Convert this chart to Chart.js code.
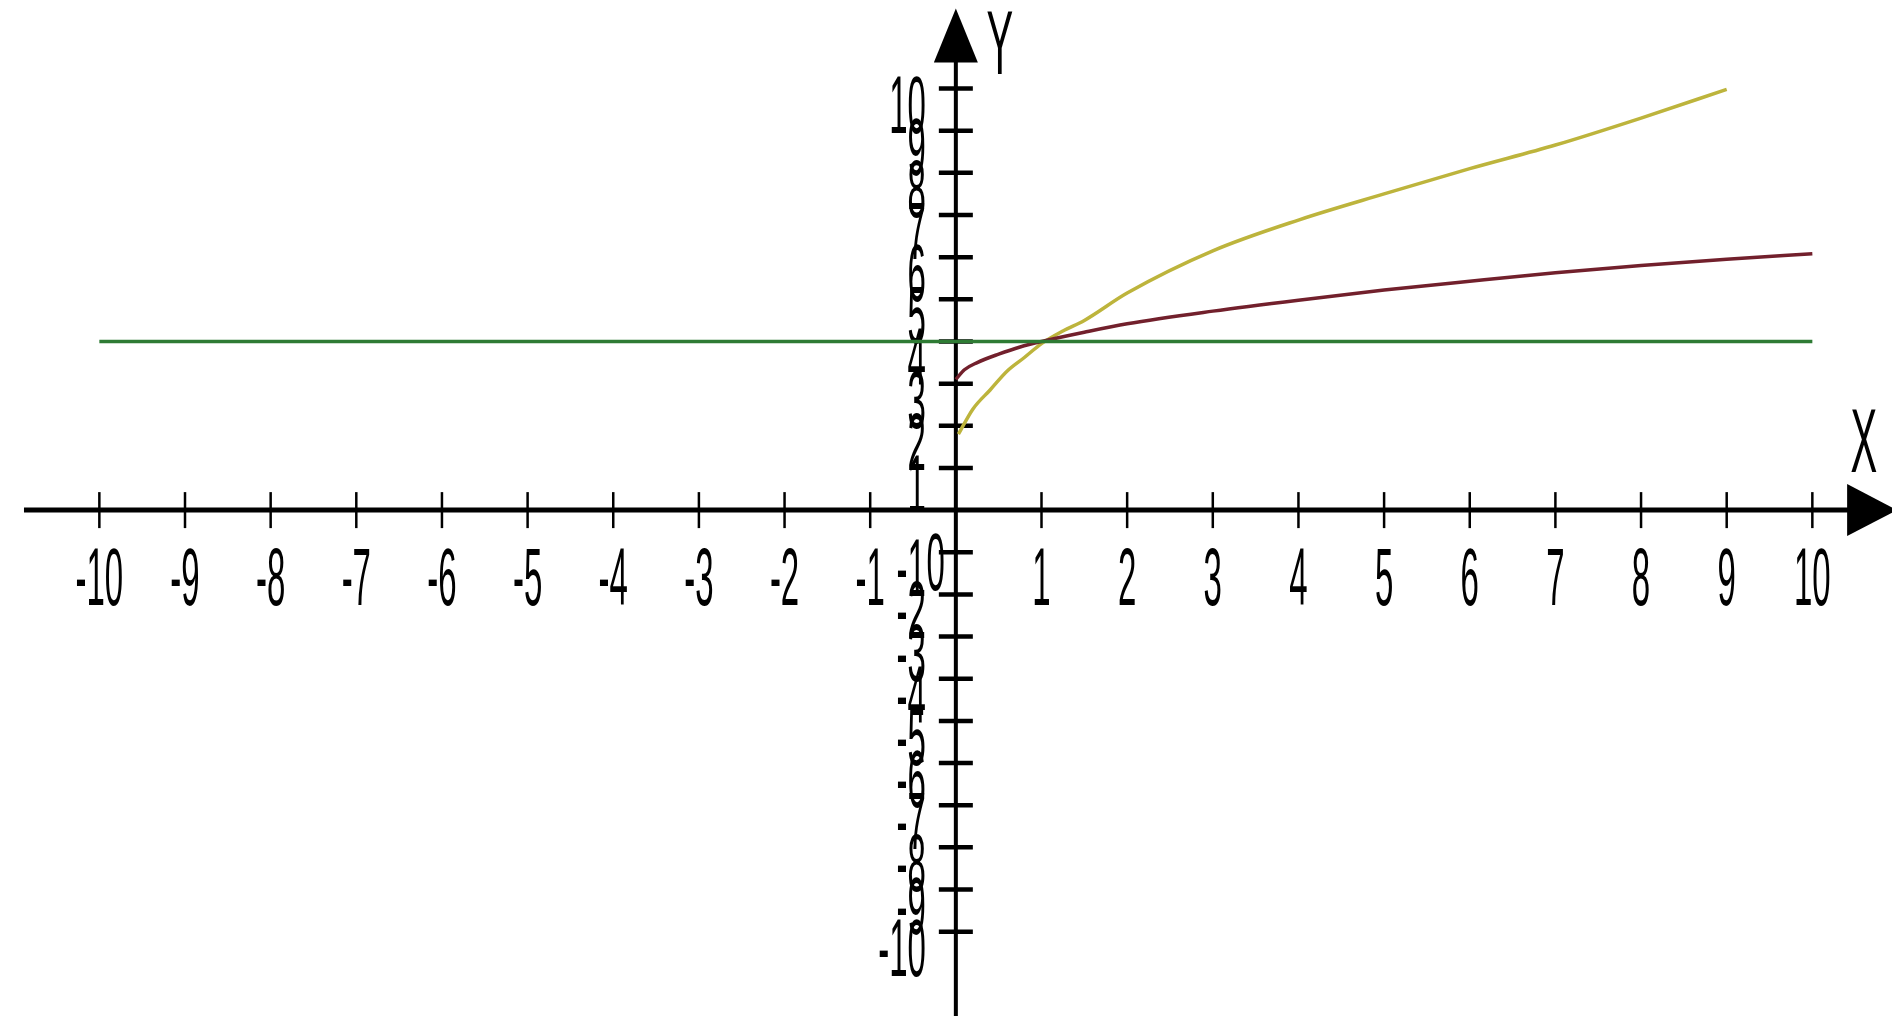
<!DOCTYPE html>
<html>
<head>
<meta charset="utf-8">
<title>Function graph</title>
<script src="https://cdn.jsdelivr.net/npm/chart.js@4/dist/chart.umd.min.js"></script>
<style>
  html, body { margin: 0; padding: 0; background: #ffffff; overflow: hidden; }
  canvas { display: block; }
</style>
</head>
<body>
<canvas id="graph" width="1892" height="1016"></canvas>
<script>
// Tick labels along both axes
const xTickLabels = ['-10', '-9', '-8', '-7', '-6', '-5', '-4', '-3', '-2', '-1', '1', '2', '3', '4', '5', '6', '7', '8', '9', '10'];
const yTickLabels = ['10', '9', '8', '7', '6', '5', '4', '3', '2', '1', '-1', '-2', '-3', '-4', '-5', '-6', '-7', '-8', '-9', '-10'];

// Horizontal line y = 4
const greenX = [-10, 10];
const greenY = [4, 4];

// Slowly rising curve starting near y = 3
const redX = [0, 0.1, 0.25, 0.5, 0.75, 1, 1.5, 2, 3, 4, 5, 6, 7, 8, 9, 10];
const redY = [3.1, 3.33, 3.5, 3.7, 3.87, 4.0, 4.22, 4.42, 4.72, 4.98, 5.22, 5.43, 5.63, 5.8, 5.95, 6.08];

// Steeper curve starting near y = 2
const yellowX = [0.03, 0.2, 0.4, 0.6, 0.8, 1, 1.25, 1.5, 2, 3, 4, 5, 6, 7, 8, 9];
const yellowY = [1.8, 2.4, 2.85, 3.3, 3.62, 3.95, 4.25, 4.5, 5.15, 6.15, 6.88, 7.5, 8.1, 8.66, 9.3, 9.98];

function pairs(xs, ys) {
  return xs.map((x, i) => ({ x: x, y: ys[i] }));
}

const FONT = '33px "Liberation Sans", Arial, sans-serif';
const V_STRETCH = 2.45;

// Draws tall, narrow-looking text anchored at its baseline
function stretchedText(ctx, text, x, baseY, align, font, stretch) {
  ctx.save();
  ctx.translate(x, baseY);
  ctx.scale(1, stretch);
  ctx.font = font;
  ctx.textAlign = align;
  ctx.textBaseline = 'alphabetic';
  ctx.fillStyle = '#000000';
  ctx.fillText(text, 0, 0);
  ctx.restore();
}

// Cartesian axes crossing at the origin, with arrows, ticks and labels
const crossedAxes = {
  id: 'crossedAxes',
  beforeDatasetsDraw(chart, args, opts) {
    const ctx = chart.ctx;
    const xs = chart.scales.x;
    const ys = chart.scales.y;
    const ox = xs.getPixelForValue(0);
    const oy = ys.getPixelForValue(0);

    ctx.save();
    ctx.strokeStyle = '#000000';
    ctx.fillStyle = '#000000';
    ctx.lineCap = 'butt';

    // x axis line
    const xLeft = xs.getPixelForValue(opts.xStart);
    const xTip = xs.getPixelForValue(opts.xEnd);
    ctx.lineWidth = 5;
    ctx.beginPath();
    ctx.moveTo(xLeft, oy);
    ctx.lineTo(xTip - 10, oy);
    ctx.stroke();
    // x arrow head
    ctx.beginPath();
    ctx.moveTo(xTip, oy);
    ctx.lineTo(xTip - 50, oy - 26);
    ctx.lineTo(xTip - 50, oy + 26);
    ctx.closePath();
    ctx.fill();

    // y axis line
    const yTip = ys.getPixelForValue(opts.yEnd);
    const yBottom = ys.getPixelForValue(opts.yStart);
    ctx.lineWidth = 4;
    ctx.beginPath();
    ctx.moveTo(ox, yBottom);
    ctx.lineTo(ox, yTip + 10);
    ctx.stroke();
    // y arrow head
    ctx.beginPath();
    ctx.moveTo(ox, yTip);
    ctx.lineTo(ox - 22, yTip + 54);
    ctx.lineTo(ox + 22, yTip + 54);
    ctx.closePath();
    ctx.fill();

    // x ticks and labels
    ctx.lineWidth = 2.5;
    xTickLabels.forEach(lbl => {
      const px = xs.getPixelForValue(Number(lbl));
      ctx.beginPath();
      ctx.moveTo(px, oy - 18);
      ctx.lineTo(px, oy + 18);
      ctx.stroke();
      stretchedText(ctx, lbl, px, oy + 95, 'center', FONT, V_STRETCH);
    });

    // y ticks and labels
    ctx.lineWidth = 4.5;
    yTickLabels.forEach(lbl => {
      const py = ys.getPixelForValue(Number(lbl));
      ctx.beginPath();
      ctx.moveTo(ox - 17, py);
      ctx.lineTo(ox + 17, py);
      ctx.stroke();
      stretchedText(ctx, lbl, ox - 30, py + 44, 'right', FONT, V_STRETCH);
    });

    // origin label
    stretchedText(ctx, '0', ox - 11, oy + 80, 'right', FONT, V_STRETCH);

    // axis names
    const nameFont = '40px "Liberation Sans", Arial, sans-serif';
    stretchedText(ctx, 'X', xs.getPixelForValue(10.6), oy - 38, 'center', nameFont, 2.25);
    stretchedText(ctx, 'Y', ox + 44, ys.getPixelForValue(opts.yEnd) + 66, 'center', nameFont, 2.25);

    ctx.restore();
  }
};

const lineStyle = {
  showLine: true,
  pointRadius: 0,
  pointHoverRadius: 0,
  borderWidth: 3.5,
  fill: false,
  cubicInterpolationMode: 'monotone'
};

new Chart(document.getElementById('graph').getContext('2d'), {
  type: 'scatter',
  data: {
    datasets: [
      Object.assign({ label: 'y = 4', data: pairs(greenX, greenY), borderColor: '#2e7b34' }, lineStyle),
      Object.assign({ label: 'red', data: pairs(redX, redY), borderColor: '#72202c' }, lineStyle),
      Object.assign({ label: 'yellow', data: pairs(yellowX, yellowY), borderColor: '#bdb43c' }, lineStyle)
    ]
  },
  options: {
    responsive: false,
    animation: false,
    devicePixelRatio: 1,
    layout: { padding: 0 },
    events: [],
    plugins: {
      legend: { display: false },
      tooltip: { enabled: false },
      crossedAxes: { xStart: -10.88, xEnd: 10.99, yStart: -12.0, yEnd: 11.9 }
    },
    scales: {
      x: { type: 'linear', min: -11.16, max: 10.93, display: false },
      y: { type: 'linear', min: -12.0, max: 12.1, display: false }
    }
  },
  plugins: [crossedAxes]
});
</script>
</body>
</html>
